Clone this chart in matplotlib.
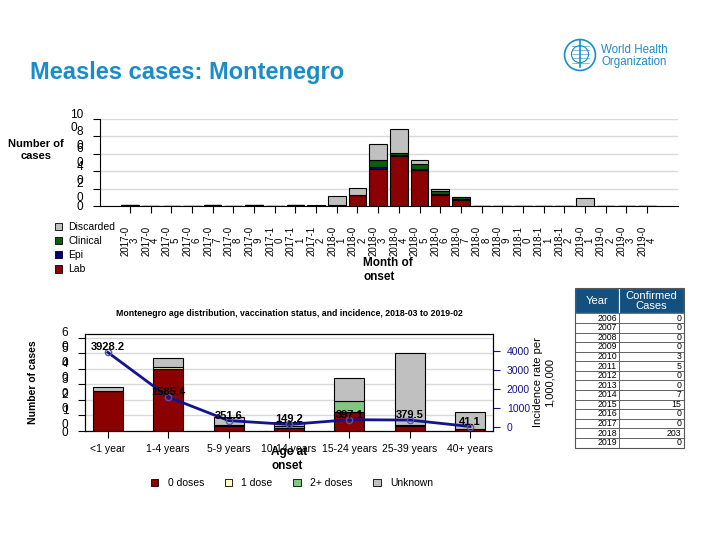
import matplotlib
matplotlib.use('Agg')
import matplotlib.pyplot as plt
from matplotlib.patches import Patch, Circle, Rectangle
import numpy as np

plt.rcParams['font.family'] = ['Liberation Sans', 'DejaVu Sans']

# 月度病例数据 (2017-03 到 2019-04)
months = ['2017-03', '2017-04', '2017-05', '2017-06', '2017-07', '2017-08', '2017-09',
          '2017-10', '2017-11', '2017-12', '2018-01', '2018-02', '2018-03', '2018-04',
          '2018-05', '2018-06', '2018-07', '2018-08', '2018-09', '2018-10', '2018-11',
          '2018-12', '2019-01', '2019-02', '2019-03', '2019-04']
lab = [1, 0, 0, 0, 1, 0, 1, 0, 1, 0, 1, 13, 43, 57, 41, 13, 7, 0, 0, 0, 0, 0, 0, 0, 0, 0]
epi = [0, 0, 0, 0, 0, 0, 0, 0, 0, 0, 0, 0, 2, 2, 1, 1, 1, 0, 0, 0, 0, 0, 0, 0, 0, 0]
clinical = [0, 0, 0, 0, 0, 0, 0, 0, 0, 0, 0, 0, 8, 2, 6, 3, 2, 0, 0, 0, 0, 0, 0, 0, 0, 0]
discarded = [0, 0, 0, 0, 0, 0, 0, 0, 0, 1, 10, 8, 18, 27, 5, 3, 0, 0, 0, 0, 0, 0, 9, 0, 0, 0]

# 年龄分布
age_groups = ['<1 year', '1-4 years', '5-9 years', '10-14 years', '15-24 years', '25-39 years', '40+ years']
dose0 = [26, 40, 3, 2, 12, 3, 1]
dose1 = [0, 1, 1, 0, 0, 1, 0]
dose2 = [0, 0, 0, 1, 7, 0, 0]
unknown = [2, 6, 5, 3, 15, 46, 11]
incidence = [3928.2, 1585.4, 351.6, 149.2, 397.1, 379.5, 41.1]

# 年度确诊病例表
years = ['2006', '2007', '2008', '2009', '2010', '2011', '2012', '2013', '2014', '2015',
         '2016', '2017', '2018', '2019']
confirmed = [0, 0, 0, 0, 3, 5, 0, 0, 7, 15, 0, 0, 203, 0]

c_lab = '#8B0000'
c_epi = '#000080'
c_clin = '#0B5E0B'
c_disc = '#C0C0C0'
c_d1 = '#FFFFC0'
c_d2 = '#80C880'
navy = '#14148A'
who_blue = '#1A8CC8'

fig = plt.figure(figsize=(7.2, 5.4), dpi=100)

fig.text(30/720, 1-72/540, 'Measles cases: Montenegro', fontsize=17, fontweight='bold',
         color=who_blue, va='center', ha='left')

# WHO 标志 (简化)
axl = fig.add_axes([563/720, 1-72/540, 34/720, 34/540])
axl.set_xlim(-1.1, 1.1)
axl.set_ylim(-1.1, 1.1)
axl.axis('off')
axl.add_patch(Circle((0, 0), 1.0, fill=False, ec=who_blue, lw=1.2))
axl.add_patch(Circle((0, 0.05), 0.55, fill=False, ec=who_blue, lw=0.8))
axl.plot([0, 0], [-0.8, 1.0], color=who_blue, lw=1.2)
for a in np.linspace(-0.6, 0.6, 5):
    axl.plot([-0.55, 0.55], [0.05 + a*0.9, 0.05 + a*0.9], color=who_blue, lw=0.4)
fig.text(601/720, 1-56/540, 'World Health\nOrganization', fontsize=8.3, color=who_blue,
         va='center', ha='left', linespacing=1.05)

# 上图: 按月病例
ax1 = fig.add_axes([100/720, 1-206/540, 578/720, 87/540])
x = np.arange(len(months))
w = 0.85
ax1.bar(x, lab, w, color=c_lab, edgecolor='black', lw=0.8, zorder=3)
b = np.array(lab)
ax1.bar(x, epi, w, bottom=b, color=c_epi, edgecolor='black', lw=0.8, zorder=3)
b = b + np.array(epi)
ax1.bar(x, clinical, w, bottom=b, color=c_clin, edgecolor='black', lw=0.8, zorder=3)
b = b + np.array(clinical)
ax1.bar(x, discarded, w, bottom=b, color=c_disc, edgecolor='black', lw=0.8, zorder=3)
ax1.set_xlim(-1.45, 26.5)
ax1.set_ylim(0, 100)
ax1.set_yticks([0, 20, 40, 60, 80, 100])
ax1.set_yticklabels(['0', '2\n0', '4\n0', '6\n0', '8\n0', '10\n0'], fontsize=8.5)
for t in ax1.get_yticklabels():
    t.set_multialignment('left')
ax1.set_xticks(x)
ax1.set_xticklabels([m[:6] + '\n' + m[6:] for m in months], rotation=90, fontsize=7,
                    linespacing=0.9)
ax1.tick_params(axis='y', length=5, pad=7, width=0.8)
ax1.tick_params(axis='x', length=5, pad=9, width=0.8)
ax1.grid(axis='y', color='#D9D9D9', lw=1, zorder=0)
ax1.spines['right'].set_color('none')
ax1.spines['top'].set_color('none')
fig.text(36/720, 1-150/540, 'Number of\ncases', fontsize=8, fontweight='bold',
         ha='center', va='center', multialignment='center')
fig.text(363/720, 1-270/540, 'Month of\nonset', fontsize=8.5, fontweight='bold',
         ha='left', va='center', multialignment='left')

h1 = [Patch(facecolor=c, edgecolor='black', lw=0.6) for c in [c_disc, c_clin, c_epi, c_lab]]
fig.legend(h1, ['Discarded', 'Clinical', 'Epi', 'Lab'], loc='upper left',
           bbox_to_anchor=(55/720, 1-222/540), frameon=False, fontsize=7.5,
           handlelength=0.7, handleheight=0.7, handletextpad=0.6, labelspacing=0.4,
           borderpad=0, borderaxespad=0)

# 下图: 年龄分布与发病率
ax2 = fig.add_axes([85/720, 1-431/540, 408/720, 97/540])
xa = np.arange(len(age_groups))
wa = 0.5
ax2.bar(xa, dose0, wa, color=c_lab, edgecolor='black', lw=0.8, zorder=3)
b2 = np.array(dose0)
ax2.bar(xa, dose1, wa, bottom=b2, color=c_d1, edgecolor='black', lw=0.8, zorder=3)
b2 = b2 + np.array(dose1)
ax2.bar(xa, dose2, wa, bottom=b2, color=c_d2, edgecolor='black', lw=0.8, zorder=3)
b2 = b2 + np.array(dose2)
ax2.bar(xa, unknown, wa, bottom=b2, color=c_disc, edgecolor='black', lw=0.8, zorder=3)
ax2.set_xlim(-0.38, 6.38)
ax2.set_ylim(0, 62.4)
ax2.set_yticks([0, 10, 20, 30, 40, 50, 60])
ax2.set_yticklabels(['0', '1\n0', '2\n0', '3\n0', '4\n0', '5\n0', '6\n0'], fontsize=8.5)
ax2.set_xticks(xa)
ax2.set_xticklabels(age_groups, fontsize=7.5)
ax2.tick_params(axis='y', length=5, pad=7, width=0.8)
ax2.tick_params(axis='x', length=5, pad=4, width=0.8)
ax2.grid(axis='y', color='#D9D9D9', lw=1, zorder=0)
ax2.set_ylabel('Number of cases', fontsize=7.5, fontweight='bold', labelpad=17)
ax2.set_title('Montenegro age distribution, vaccination status, and incidence, 2018-03 to 2019-02',
              fontsize=6.3, fontweight='bold', pad=13)

ax3 = ax2.twinx()
ax3.plot(xa, incidence, color=navy, lw=2, marker='o', ms=4.5, mfc='none', mec='#5555AA',
         mew=1, zorder=5)
for xi, v in zip(xa, incidence):
    ax3.annotate(f'{v:.1f}', (xi, v), xytext=(0, 0), textcoords='offset points',
                 ha='center', va='bottom', fontsize=8, fontweight='bold', zorder=6)
ax3.set_ylim(-195, 4895)
ax3.set_yticks([0, 1000, 2000, 3000, 4000])
ax3.tick_params(axis='y', colors=navy, labelsize=7.5, length=5, pad=5)
ax3.set_ylabel('Incidence rate per\n1,000,000', fontsize=8, labelpad=2)

fig.text(271/720, 1-459/540, 'Age at\nonset', fontsize=8.5, fontweight='bold',
         ha='left', va='center', multialignment='left')

h2 = [Patch(facecolor=c, edgecolor='black', lw=0.6) for c in [c_lab, c_d1, c_d2, c_disc]]
fig.legend(h2, ['0 doses', '1 dose', '2+ doses', 'Unknown'], loc='center', ncol=4,
           bbox_to_anchor=(292/720, 1-483/540), frameon=False, fontsize=7.5,
           handlelength=0.7, handleheight=0.7, handletextpad=0.9, columnspacing=2.0,
           borderpad=0)

# 右侧表格
axt = fig.add_axes([575/720, 1-448/540, 109/720, 160/540])
axt.set_xlim(-0.5, 109.5)
axt.set_ylim(160.5, -0.5)
axt.axis('off')
hdr_h = 25
row_h = (160 - hdr_h) / len(years)
col1 = 44
axt.add_patch(Rectangle((0, 0), col1, hdr_h, facecolor='#13507F', edgecolor='white', lw=0.8))
axt.add_patch(Rectangle((col1, 0), 109 - col1, hdr_h, facecolor='#13507F', edgecolor='white', lw=0.8))
axt.text(col1/2, hdr_h/2, 'Year', color='white', fontsize=8, ha='center', va='center')
axt.text((col1 + 109)/2, hdr_h/2, 'Confirmed\nCases', color='white', fontsize=8,
         ha='center', va='center', linespacing=1.1)
for i, (yr, c) in enumerate(zip(years, confirmed)):
    y0 = hdr_h + i*row_h
    axt.add_patch(Rectangle((0, y0), col1, row_h, facecolor='white', edgecolor='#555555', lw=0.6))
    axt.add_patch(Rectangle((col1, y0), 109 - col1, row_h, facecolor='white', edgecolor='#555555', lw=0.6))
    axt.text(col1 - 2, y0 + row_h/2, yr, fontsize=6.3, ha='right', va='center')
    axt.text(107, y0 + row_h/2, str(c), fontsize=6.3, ha='right', va='center')
axt.add_patch(Rectangle((0, 0), 109, 160, fill=False, edgecolor='#555555', lw=0.8, clip_on=False))

plt.savefig('out.png', dpi=100)
